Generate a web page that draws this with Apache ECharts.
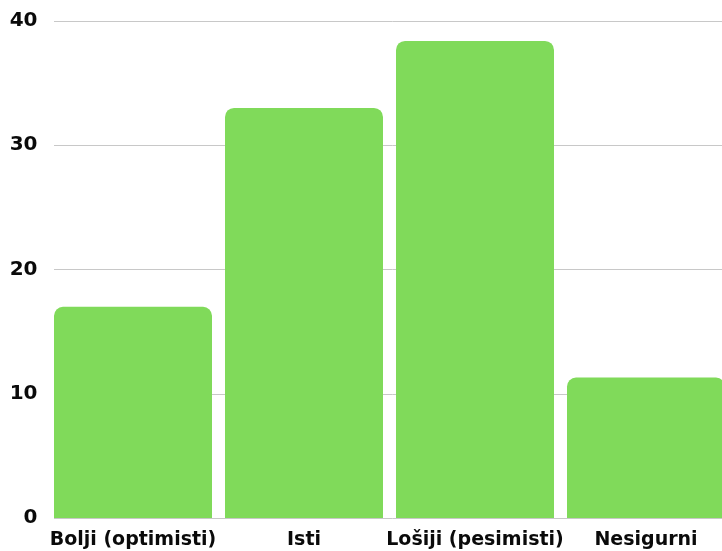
<!DOCTYPE html>
<html>
<head>
<meta charset="utf-8">
<script src="https://cdn.jsdelivr.net/npm/echarts@6/dist/echarts.min.js"></script>
<style>
  html, body { margin: 0; padding: 0; background: #fff; overflow: hidden; }
  #chart { width: 732px; height: 551px; }
</style>
</head>
<body>
<div id="chart"></div>
<script>
  var categories = ['Bolji (optimisti)', 'Isti', 'Lošiji (pesimisti)', 'Nesigurni'];
  var values = [17, 33, 38.4, 11.3];
  var yTicks = [0, 10, 20, 30, 40];

  // chart is a bit wider than the window so the last bar gets cut off, like the original
  var myChart = echarts.init(document.getElementById('chart'));
  myChart.setOption({
    animation: false,
    grid: [
      { left: 47.5, right: 0.5, top: 21, bottom: 33, containLabel: false },
      // second grid only for the gridlines, which start at the first bar's edge
      { left: 54, right: 0.5, top: 21, bottom: 33, containLabel: false }
    ],
    xAxis: [
      {
        type: 'category',
        gridIndex: 0,
        data: categories,
        axisLine: { show: false },
        axisTick: { show: false },
        axisLabel: {
          interval: 0,
          margin: 13,
          color: '#0a0a0a',
          fontSize: 19,
          fontWeight: 'bold',
          fontFamily: 'DejaVu Sans'
        }
      },
      { type: 'category', gridIndex: 1, data: categories, show: false }
    ],
    yAxis: [
      {
        type: 'value',
        gridIndex: 0,
        min: yTicks[0],
        max: yTicks[yTicks.length - 1],
        interval: 10,
        axisLine: { show: false },
        axisTick: { show: false },
        axisLabel: {
          margin: 10,
          color: '#0a0a0a',
          fontSize: 20,
          fontWeight: 'bold',
          fontFamily: 'DejaVu Sans',
          formatter: function (v) { return yTicks.indexOf(v) >= 0 ? String(v) : ''; }
        },
        splitLine: { show: false }
      },
      {
        type: 'value',
        gridIndex: 1,
        min: yTicks[0],
        max: yTicks[yTicks.length - 1],
        interval: 10,
        axisLine: { show: false },
        axisTick: { show: false },
        axisLabel: { show: false },
        splitLine: { show: true, lineStyle: { color: '#c8c8c8', width: 1 } }
      }
    ],
    series: [
      {
        type: 'bar',
        xAxisIndex: 0,
        yAxisIndex: 0,
        data: values,
        barCategoryGap: '7.6%',
        itemStyle: { color: '#80da5a', borderRadius: [9, 9, 0, 0] }
      }
    ]
  });
</script>
</body>
</html>
